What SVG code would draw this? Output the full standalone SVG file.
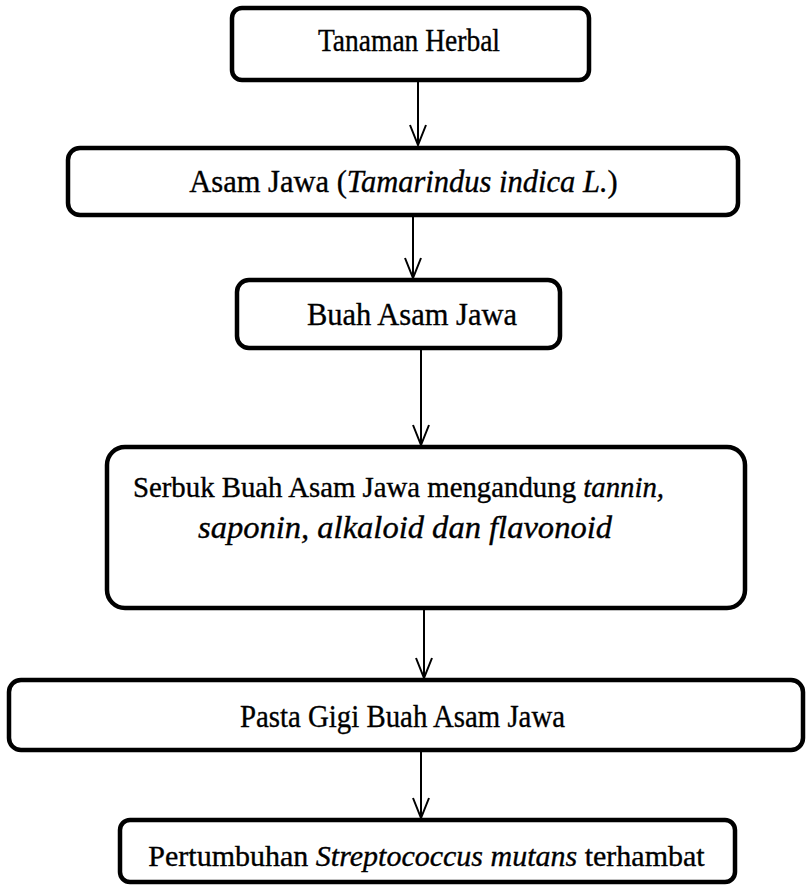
<svg xmlns="http://www.w3.org/2000/svg" width="809" height="888" viewBox="0 0 809 888">
<style>
.box{fill:#fff;stroke:#000;stroke-width:4.5}
.t{font-family:"Liberation Serif","Times New Roman",serif;font-size:31px;fill:#000;stroke:#000;stroke-width:0.35;text-anchor:middle}
.i{font-style:italic}
.c{stroke:#000;stroke-width:2;fill:none}
</style>
<defs>
<marker id="ah" markerWidth="22" markerHeight="18" refX="21" refY="9" orient="auto" markerUnits="userSpaceOnUse" viewBox="0 0 22 18">
<path d="M1,1 L21,9 L1,17" fill="none" stroke="#000" stroke-width="2"/>
</marker>
</defs>
<rect width="809" height="888" fill="#fff"/>
<g id="connectors">
<line class="c" x1="418" y1="81" x2="418" y2="145" marker-end="url(#ah)"/>
<line class="c" x1="413" y1="217" x2="413" y2="278" marker-end="url(#ah)"/>
<line class="c" x1="421" y1="349" x2="421" y2="445" marker-end="url(#ah)"/>
<line class="c" x1="424" y1="609" x2="424" y2="678" marker-end="url(#ah)"/>
<line class="c" x1="421" y1="751" x2="421" y2="818" marker-end="url(#ah)"/>
</g>
<g id="n1">
<rect class="box" x="232" y="8" width="357" height="72" rx="10"/>
<text class="t" x="409" y="51" textLength="182" lengthAdjust="spacingAndGlyphs">Tanaman Herbal</text>
</g>
<g id="n2">
<rect class="box" x="68" y="148" width="670" height="67" rx="12"/>
<text class="t" x="403.5" y="192" style="font-size:30.5px">Asam Jawa (<tspan class="i">Tamarindus indica L.</tspan>)</text>
</g>
<g id="n3">
<rect class="box" x="237" y="280" width="323" height="68" rx="12"/>
<text class="t" x="412" y="325" textLength="210" lengthAdjust="spacingAndGlyphs">Buah Asam Jawa</text>
</g>
<g id="n4">
<rect class="box" x="107" y="447" width="638" height="161" rx="18"/>
<text class="t" x="398.5" y="497" style="font-size:28.8px">Serbuk Buah Asam Jawa mengandung <tspan class="i">tannin,</tspan></text>
<text class="t i" x="405" y="538" textLength="414" lengthAdjust="spacingAndGlyphs">saponin, alkaloid dan flavonoid</text>
</g>
<g id="n5">
<rect class="box" x="9" y="680" width="794" height="70" rx="12"/>
<text class="t" x="402.5" y="727" textLength="325" lengthAdjust="spacingAndGlyphs">Pasta Gigi Buah Asam Jawa</text>
</g>
<g id="n6">
<rect class="box" x="120" y="820" width="615" height="62" rx="10"/>
<text class="t" x="426.5" y="866" style="font-size:30px">Pertumbuhan <tspan class="i">Streptococcus mutans</tspan> terhambat</text>
</g>
</svg>
